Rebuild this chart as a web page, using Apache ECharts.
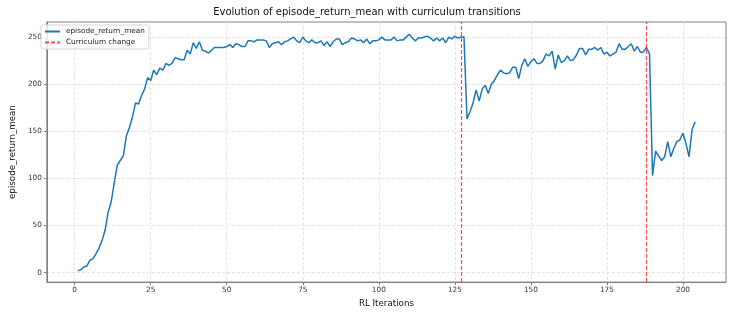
<!DOCTYPE html>
<html>
<head>
<meta charset="utf-8">
<title>Evolution of episode_return_mean</title>
<script src="https://cdn.jsdelivr.net/npm/echarts@6/dist/echarts.min.js"></script>
<style>
  html, body { margin: 0; padding: 0; background: #fff; }
  #chart { width: 734px; height: 313px; }
</style>
</head>
<body>
<div id="chart"></div>
<script>
// episode_return_mean per RL iteration, split by curriculum stage
const stage1Returns = [
  2, 3, 6, 7, 13, 15, 20, 26, 34, 45,
  64, 75, 95, 114, 119, 124, 145, 154, 165, 180,
  179, 188, 195, 207, 204, 215, 210, 217, 215, 222,
  220, 222, 228, 227, 226, 226, 236, 232, 244, 238,
  245, 236, 235, 233, 236, 239, 239, 239, 239, 240,
  242, 239, 243, 242, 240, 240, 246, 246, 245, 247,
  247, 247, 246, 239, 243, 244, 245, 242, 245, 246,
  248, 250, 246, 244, 250, 246, 244, 247, 244, 244,
  246, 241, 245, 240, 245, 248, 248, 242, 244, 245,
  249, 248, 246, 247, 244, 248, 243, 246, 246, 247,
  250, 247, 247, 247, 250, 246, 247, 247, 250, 253,
  249, 246, 249, 249, 250, 251, 249, 246, 249, 246,
  249, 244, 250, 248, 251, 249, 250, 250,
];
const stage2Returns = [
  163, 171, 180, 194, 182, 195, 199, 190, 200, 204,
  210, 215, 212, 211, 212, 218, 218, 206, 220, 227,
  219, 224, 227, 222, 222, 225, 232, 230, 235, 216,
  231, 223, 225, 230, 225, 226, 231, 238, 238, 231,
  237, 237, 239, 236, 239, 232, 234, 230, 232, 234,
  243, 237, 237, 240, 243, 235, 240, 234, 234, 239,
  232,
];
const stage3Returns = [
  103, 129, 124, 119, 123, 139, 123, 132, 139, 141,
  148, 137, 123, 152, 160,
];
const curriculumChanges = [127, 188];
const xTicks = [0, 25, 50, 75, 100, 125, 150, 175, 200];
const yTicks = [0, 50, 100, 150, 200, 250];

const returns = stage1Returns.concat(stage2Returns, stage3Returns);
const seriesData = returns.map((v, i) => [i + 1, v]);

const FONT = 'DejaVu Sans, sans-serif';
const BLUE = '#1f77b4';
const RED = 'rgba(255, 0, 0, 0.7)';
const gridLine = { show: true, lineStyle: { color: '#e3e3e3', width: 1, type: [3, 2] } };
const spine = { show: true, onZero: false, lineStyle: { color: '#808080', width: 1 } };

const chart = echarts.init(document.getElementById('chart'));

chart.setOption({
  animation: false,
  backgroundColor: '#fff',
  title: {
    text: 'Evolution of episode_return_mean with curriculum transitions',
    left: 'center',
    top: 7,
    padding: [0, 0, 0, 29],
    textStyle: { fontFamily: FONT, fontSize: 10, fontWeight: 'normal', color: '#111' },
  },
  legend: {
    orient: 'vertical',
    left: 41,
    top: 25,
    padding: [3, 4, 3, 3],
    itemWidth: 15,
    itemHeight: 8,
    itemGap: 4,
    borderColor: '#d6d6d6',
    borderWidth: 1,
    borderRadius: 2,
    backgroundColor: 'rgba(255,255,255,0.8)',
    itemStyle: { opacity: 0 },
    textStyle: { fontFamily: FONT, fontSize: 7.3, color: '#222', padding: [0, 0, 0, 1] },
    data: ['episode_return_mean', 'Curriculum change'],
  },
  grid: {
    left: 37, right: 8, top: 22, bottom: 29,
    containLabel: false,
    show: true,
    borderColor: '#808080',
    borderWidth: 1,
  },
  xAxis: {
    type: 'value',
    min: -9.15,
    max: 214.15,
    name: 'RL Iterations',
    nameLocation: 'middle',
    nameGap: 15,
    nameTextStyle: { fontFamily: FONT, fontSize: 8.7, color: '#111' },
    axisLine: spine,
    axisTick: { show: true, length: 3, customValues: xTicks, lineStyle: { color: '#808080' } },
    axisLabel: { customValues: xTicks, margin: 5, fontFamily: FONT, fontSize: 7.3, color: '#333' },
    splitLine: gridLine,
  },
  yAxis: {
    type: 'value',
    min: -10,
    max: 266,
    name: 'episode_return_mean',
    nameLocation: 'middle',
    nameGap: 21,
    nameTextStyle: { fontFamily: FONT, fontSize: 8.7, color: '#111' },
    axisLine: spine,
    axisTick: { show: true, length: 3, customValues: yTicks, lineStyle: { color: '#808080' } },
    axisLabel: { customValues: yTicks, margin: 5, fontFamily: FONT, fontSize: 7.3, color: '#333' },
    splitLine: gridLine,
  },
  series: [
    {
      name: 'episode_return_mean',
      type: 'line',
      data: seriesData,
      symbol: 'none',
      lineStyle: { color: BLUE, width: 1.5 },
      itemStyle: { color: BLUE },
      z: 3,
    },
    {
      name: 'Curriculum change',
      type: 'line',
      data: [],
      symbol: 'none',
      lineStyle: { color: RED, width: 1.2, type: [4, 2] },
      itemStyle: { color: RED },
      markLine: {
        silent: true,
        symbol: 'none',
        label: { show: false },
        lineStyle: { color: RED, width: 1.2, type: [4, 2] },
        data: curriculumChanges.map(x => ({ xAxis: x })),
      },
      z: 2,
    },
  ],
});

window.addEventListener('resize', () => chart && chart.resize());
</script>
</body>
</html>
